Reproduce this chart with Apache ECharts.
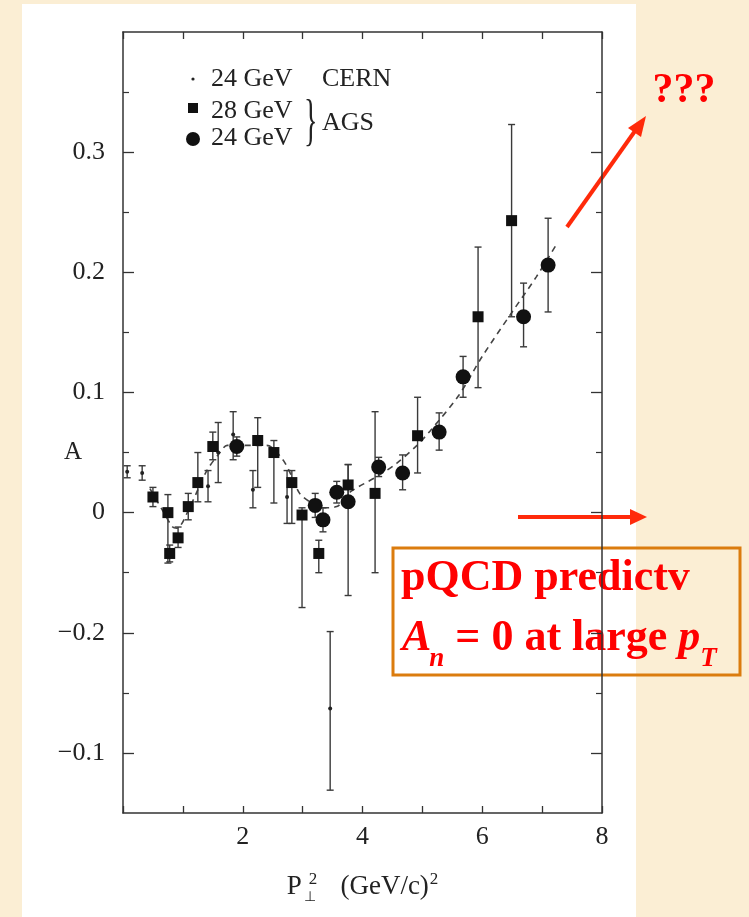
<!DOCTYPE html>
<html><head><meta charset="utf-8">
<script src="https://cdn.jsdelivr.net/npm/echarts@6/dist/echarts.min.js"></script>
<style>html,body{margin:0;padding:0;background:#fbeed4;}#c{width:749px;height:917px;}</style>
</head><body><div id="c"></div>
<script>
// ---- data ----
const fitX = [0.45,0.67,0.83,0.90,1.12,1.40,1.62,1.74,2.40,2.67,2.82,2.95,3.12,3.34,3.57,3.79,4.24,4.57,4.91,5.13,5.60,6.00,6.50,6.90,7.25];
const fitA = [0.020,0.001,-0.012,-0.013,0.005,0.035,0.050,0.056,0.056,0.044,0.030,0.016,0.009,0.004,0.005,0.017,0.030,0.041,0.056,0.068,0.097,0.130,0.167,0.196,0.224];

const cernX  = [0.07,0.32,1.42,1.59,1.84,2.17,2.74,3.46];
const cernA  = [0.034,0.033,0.022,0.050,0.065,0.019,0.013,-0.163];
const cernLo = [0.029,0.027,0.009,0.025,0.044,0.004,-0.009,-0.231];
const cernHi = [0.039,0.039,0.035,0.075,0.084,0.035,0.035,-0.099];

const ags28X  = [0.50,0.75,0.78,0.92,1.09,1.25,1.50,2.25,2.52,2.82,2.99,3.27,3.76,4.21,4.92,5.93,6.49];
const ags28A  = [0.013,0.000,-0.034,-0.021,0.005,0.025,0.055,0.060,0.050,0.025,-0.002,-0.034,0.023,0.016,0.064,0.163,0.243];
const ags28Lo = [0.005,-0.042,-0.041,-0.029,-0.006,0.009,0.044,0.021,0.008,-0.009,-0.079,-0.050,0.012,-0.050,0.033,0.104,0.163];
const ags28Hi = [0.021,0.015,-0.027,-0.012,0.016,0.050,0.067,0.079,0.060,0.035,0.004,-0.023,0.040,0.084,0.096,0.221,0.323];

const ags24X  = [1.90,3.21,3.34,3.57,3.76,4.27,4.67,5.28,5.68,6.69,7.10];
const ags24A  = [0.055,0.006,-0.006,0.017,0.009,0.038,0.033,0.067,0.113,0.163,0.206];
const ags24Lo = [0.047,-0.004,-0.016,0.008,-0.069,0.030,0.019,0.052,0.096,0.138,0.167];
const ags24Hi = [0.063,0.016,0.004,0.026,0.040,0.046,0.048,0.083,0.130,0.191,0.245];

const yTickValues  = [-0.2,-0.1,0,0.1,0.2,0.3];
const yTickLabels  = ['\u22120.1','\u22120.2','0','0.1','0.2','0.3'];
const yMinorValues = [-0.15,-0.05,0.05,0.15,0.25,0.35];
const xTickLabels  = {2:'2',4:'4',6:'6',8:'8'};

// ---- chart ----
const FONT = "'Liberation Serif','Times New Roman',serif";
const AX = '#333';
const RED = '#ff0000';
const chart = echarts.init(document.getElementById('c'), null, {renderer:'canvas'});

const zip = (a,b) => a.map((v,i)=>[v,b[i]]);
const zip3 = (a,b,c) => a.map((v,i)=>[v,b[i],c[i]]);

const mctx = document.createElement('canvas').getContext('2d');
function tw(text, font){ mctx.font = font; return mctx.measureText(text).width; }

function errRender(params, api){
  const x = api.value(0), lo = api.value(1), hi = api.value(2);
  const p1 = api.coord([x, hi]), p2 = api.coord([x, lo]);
  const w = 3.5;
  const style = {stroke:'#3a3a3a', lineWidth:1.4};
  return {type:'group', children:[
    {type:'line', shape:{x1:p1[0],y1:p1[1],x2:p2[0],y2:p2[1]}, style},
    {type:'line', shape:{x1:p1[0]-w,y1:p1[1],x2:p1[0]+w,y2:p1[1]}, style},
    {type:'line', shape:{x1:p2[0]-w,y1:p2[1],x2:p2[0]+w,y2:p2[1]}, style}
  ]};
}

// second text line of the box, built piecewise (subscripts), positioned by top edge
const BIG = 44, SUB = 27;
const fI = "italic bold "+BIG+"px "+FONT, fB = "bold "+BIG+"px "+FONT, fS = "italic bold "+SUB+"px "+FONT;
const line2 = [
  {t:'A', f:fI, top:617},
  {t:'n', f:fS, top:646},
  {t:' = 0 at large ', f:fB, top:617},
  {t:'p', f:fI, top:617},
  {t:'T', f:fS, top:646}
];
let cx = 402;
const line2Els = line2.map(p => {
  const el = {type:'text', x:cx, y:p.top, style:{text:p.t, font:p.f, fill:RED, verticalAlign:'top'}};
  cx += tw(p.t, p.f) - (p.t==='A' ? 2 : 0);
  return el;
});

const gridBox = {left:123, right:147, top:32, bottom:104};
const axLine = {show:true, onZero:false, lineStyle:{color:AX, width:1.5}};
const axNoLine = {show:false, onZero:false};

const option = {
  backgroundColor:'#fbeed4',
  animation:false,
  grid:[Object.assign({}, gridBox), Object.assign({}, gridBox)],
  xAxis:[
    {type:'value', gridIndex:0, position:'bottom', min:0, max:8, interval:1,
     name:'{p|P}{s1|2}{t|   (GeV/c)}{s2|2}', nameLocation:'middle', nameGap:58,
     nameTextStyle:{fontFamily:FONT, color:'#222', fontSize:27,
       rich:{p:{fontFamily:FONT,fontSize:27,color:'#222'},
             t:{fontFamily:FONT,fontSize:27,color:'#222'},
             s1:{fontFamily:FONT,fontSize:17,color:'#222',padding:[0,3,14,7]},
             s2:{fontFamily:FONT,fontSize:17,color:'#222',padding:[0,0,14,1]}}},
     axisLine:axLine, splitLine:{show:false},
     axisTick:{inside:true, length:7, lineStyle:{color:AX,width:1.3}},
     axisLabel:{margin:11, fontFamily:FONT, fontSize:26, color:'#222',
       formatter:v => xTickLabels[v] || ''}},
    {type:'value', gridIndex:1, position:'top', min:0, max:8, interval:1,
     axisLine:axLine, splitLine:{show:false},
     axisTick:{inside:true, length:7, lineStyle:{color:AX,width:1.3}},
     axisLabel:{show:false}}
  ],
  yAxis:[
    {type:'value', gridIndex:0, position:'left', min:-0.25, max:0.4,
     axisLine:axLine, splitLine:{show:false},
     axisTick:{inside:true, length:11, customValues:yTickValues, lineStyle:{color:AX,width:1.3}},
     axisLabel:{customValues:yTickValues, margin:18, fontFamily:FONT, fontSize:26, color:'#222',
       formatter:v => { const i = yTickValues.findIndex(t=>Math.abs(t-v)<1e-6); return i>=0 ? yTickLabels[i] : ''; }}},
    {type:'value', gridIndex:0, position:'right', min:-0.25, max:0.4,
     axisLine:axLine, splitLine:{show:false},
     axisTick:{inside:true, length:11, customValues:yTickValues, lineStyle:{color:AX,width:1.3}},
     axisLabel:{show:false}},
    {type:'value', gridIndex:1, position:'left', min:-0.25, max:0.4,
     axisLine:axNoLine, splitLine:{show:false},
     axisTick:{inside:true, length:6, customValues:yMinorValues, lineStyle:{color:AX,width:1.2}},
     axisLabel:{show:false}},
    {type:'value', gridIndex:1, position:'right', min:-0.25, max:0.4,
     axisLine:axNoLine, splitLine:{show:false},
     axisTick:{inside:true, length:6, customValues:yMinorValues, lineStyle:{color:AX,width:1.2}},
     axisLabel:{show:false}}
  ],
  series:[
    {name:'fit', type:'line', xAxisIndex:0, yAxisIndex:0, data:zip(fitX, fitA), symbol:'none', smooth:0.3,
     lineStyle:{color:'#444', width:1.6, type:[6,5]}, z:3},
    {name:'cern-err', type:'custom', xAxisIndex:0, yAxisIndex:0, renderItem:errRender,
     encode:{x:0, y:[1,2]}, data:zip3(cernX, cernLo, cernHi), z:4},
    {name:'ags28-err', type:'custom', xAxisIndex:0, yAxisIndex:0, renderItem:errRender,
     encode:{x:0, y:[1,2]}, data:zip3(ags28X, ags28Lo, ags28Hi), z:4},
    {name:'ags24-err', type:'custom', xAxisIndex:0, yAxisIndex:0, renderItem:errRender,
     encode:{x:0, y:[1,2]}, data:zip3(ags24X, ags24Lo, ags24Hi), z:4},
    {name:'24 GeV CERN', type:'scatter', xAxisIndex:0, yAxisIndex:0, data:zip(cernX, cernA),
     symbol:'circle', symbolSize:4, itemStyle:{color:'#222', opacity:1}, z:5},
    {name:'28 GeV AGS', type:'scatter', xAxisIndex:0, yAxisIndex:0, data:zip(ags28X, ags28A),
     symbol:'rect', symbolSize:11, itemStyle:{color:'#111', opacity:1}, z:6},
    {name:'24 GeV AGS', type:'scatter', xAxisIndex:0, yAxisIndex:0, data:zip(ags24X, ags24A),
     symbol:'circle', symbolSize:15, itemStyle:{color:'#111', opacity:1}, z:6}
  ],
  graphic:[
    {type:'rect', z:-100, shape:{x:22,y:4,width:614,height:913}, style:{fill:'#ffffff'}, silent:true},
    // y axis name
    {type:'text', x:73, y:452, style:{text:'A', font:"25px "+FONT, fill:'#222', align:'center', verticalAlign:'middle'}},
    {type:'text', x:310, y:897, style:{text:'\u22a5', font:"14px "+FONT, fill:'#222', align:'center', verticalAlign:'middle'}},
    // legend
    {type:'circle', shape:{cx:193, cy:79, r:1.6}, style:{fill:'#222'}},
    {type:'text', x:211, y:79, style:{text:'24 GeV', font:"26px "+FONT, fill:'#222', verticalAlign:'middle'}},
    {type:'text', x:322, y:79, style:{text:'CERN', font:"26px "+FONT, fill:'#222', verticalAlign:'middle'}},
    {type:'rect', shape:{x:188, y:103, width:10, height:10}, style:{fill:'#111'}},
    {type:'text', x:211, y:111, style:{text:'28 GeV', font:"26px "+FONT, fill:'#222', verticalAlign:'middle'}},
    {type:'circle', shape:{cx:193, cy:139, r:7}, style:{fill:'#111'}},
    {type:'text', x:211, y:138, style:{text:'24 GeV', font:"26px "+FONT, fill:'#222', verticalAlign:'middle'}},
    {type:'text', x:304, y:124, scaleX:0.5, style:{text:'}', font:"56px "+FONT, fill:'#222', verticalAlign:'middle'}},
    {type:'text', x:322, y:123, style:{text:'AGS', font:"26px "+FONT, fill:'#222', verticalAlign:'middle'}},
    // red arrow 1
    {type:'line', shape:{x1:567,y1:227,x2:635,y2:131}, style:{stroke:'#ff2a0a', lineWidth:4}},
    {type:'polygon', shape:{points:[[646,116],[641,137],[628,128]]}, style:{fill:'#ff2a0a'}},
    {type:'text', x:684, y:91, style:{text:'???', font:"bold 42px "+FONT, fill:RED, align:'center', verticalAlign:'middle'}},
    // red arrow 2
    {type:'line', shape:{x1:518,y1:517,x2:632,y2:517}, style:{stroke:'#ff2a0a', lineWidth:4}},
    {type:'polygon', shape:{points:[[647,517],[630,509],[630,525]]}, style:{fill:'#ff2a0a'}},
    // box
    {type:'rect', shape:{x:393,y:548,width:347,height:127}, style:{fill:'transparent', stroke:'#db7c0e', lineWidth:3}},
    {type:'text', x:401, y:557, style:{text:'pQCD predictv', font:"bold "+BIG+"px "+FONT, fill:RED, verticalAlign:'top'}}
  ].concat(line2Els)
};
chart.setOption(option);
</script></body></html>
